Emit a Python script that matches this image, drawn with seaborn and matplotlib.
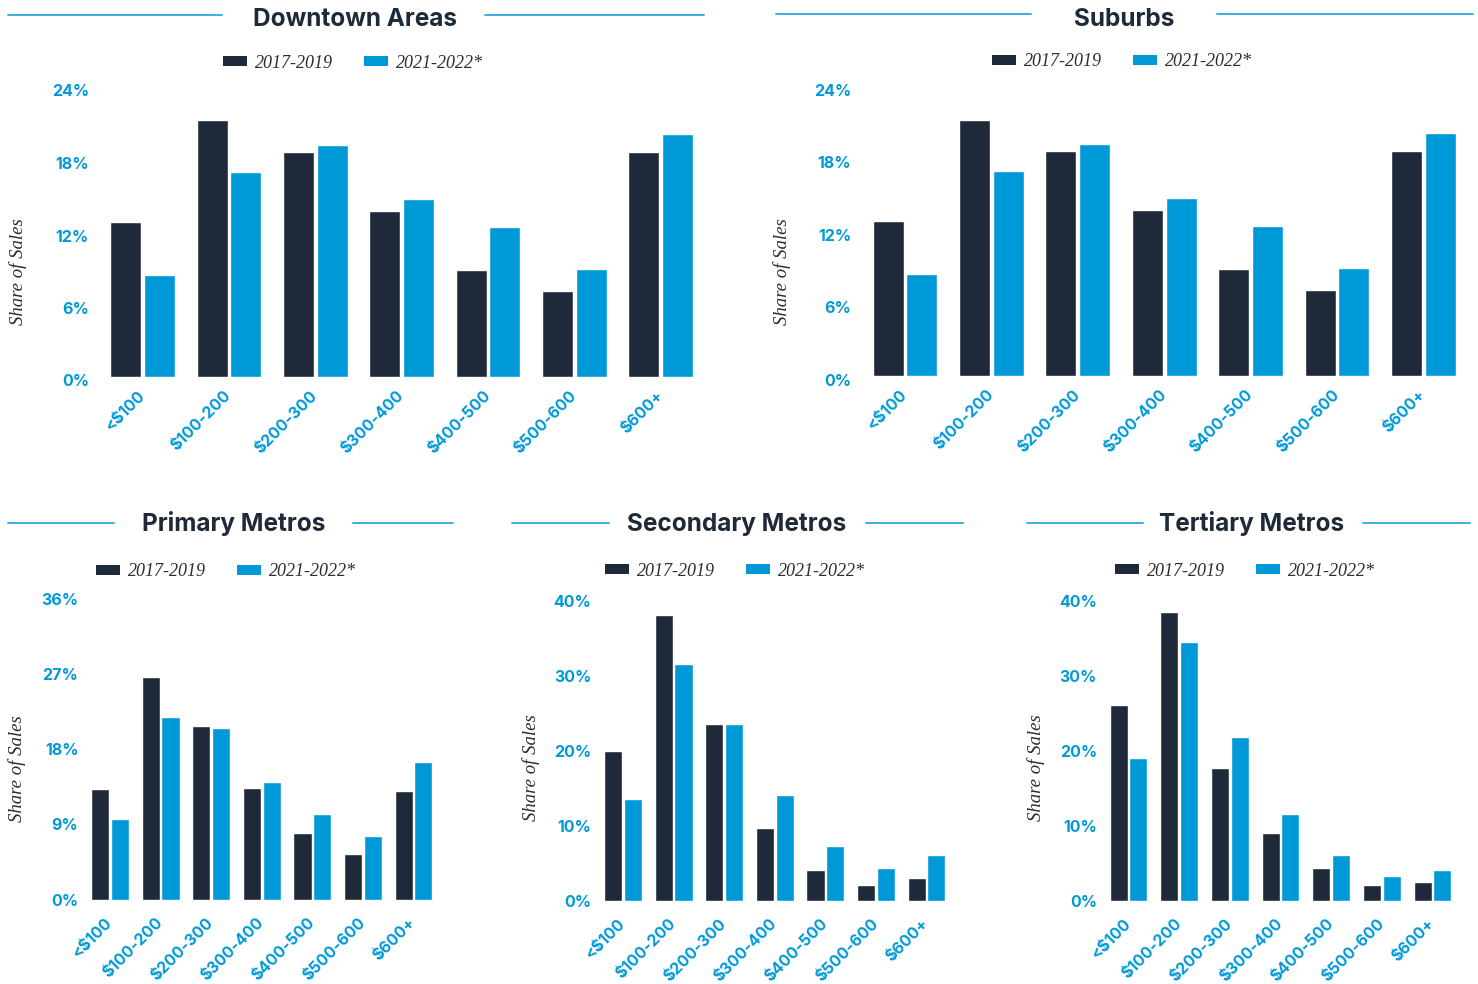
import matplotlib
matplotlib.use("Agg")
import matplotlib.pyplot as plt
from matplotlib.lines import Line2D
from matplotlib.patches import Patch
from matplotlib.transforms import ScaledTranslation
import pandas as pd
import seaborn as sns

# ---- data (share of sales, %) ----
price_bins = ["<$100", "$100-200", "$200-300", "$300-400", "$400-500", "$500-600", "$600+"]
periods = ["2017-2019", "2021-2022*"]

downtown_2017_2019 = [12.8, 21.2, 18.6, 13.7, 8.8, 7.1, 18.6]
downtown_2021_2022 = [8.4, 16.9, 19.2, 14.7, 12.4, 8.9, 20.1]

suburbs_2017_2019 = [12.8, 21.2, 18.6, 13.7, 8.8, 7.1, 18.6]
suburbs_2021_2022 = [8.4, 16.9, 19.2, 14.7, 12.4, 8.9, 20.1]

primary_2017_2019 = [13.2, 26.6, 20.8, 13.4, 8.0, 5.5, 13.0]
primary_2021_2022 = [9.6, 21.9, 20.5, 14.1, 10.2, 7.6, 16.5]

secondary_2017_2019 = [20.0, 38.1, 23.6, 9.7, 4.1, 2.1, 3.0]
secondary_2021_2022 = [13.6, 31.6, 23.6, 14.1, 7.3, 4.4, 6.1]

tertiary_2017_2019 = [26.1, 38.5, 17.7, 9.0, 4.4, 2.1, 2.5]
tertiary_2021_2022 = [19.0, 34.5, 21.8, 11.6, 6.1, 3.3, 4.1]

titles = ["Downtown Areas", "Suburbs", "Primary Metros", "Secondary Metros", "Tertiary Metros"]
yticks_top = [0, 6, 12, 18, 24]
yticks_primary = [0, 9, 18, 27, 36]
yticks_other = [0, 10, 20, 30, 40]

# ---- style ----
DARK = "#1e2a3a"
BLUE = "#0099d8"
TEXT_DARK = "#1e2a3a"
SERIF_TEXT = "#2d2d2d"
RULE = "#3aaee0"

sns.set_theme(style="white")
plt.rcParams["font.family"] = ["Inter", "DejaVu Sans"]

W, H = 1478, 984
fig = plt.figure(figsize=(W / 100, H / 100), dpi=100)
fig.patch.set_facecolor("white")


def fx(px):
    return px / W


def fy(py):
    return 1 - py / H


def frame(ax_left, ax_right, ax_top, ax_bottom):
    return [fx(ax_left), fy(ax_bottom), fx(ax_right - ax_left), (ax_bottom - ax_top) / H]


panels = [
    dict(title=titles[0], a=downtown_2017_2019, b=downtown_2021_2022, ticks=yticks_top,
         rect=frame(99.3, 704.0, 86.5, 376.5), rule=(8, 222, 485, 704, 15), tcx=355, tby=26,
         leg=(353, 63), ylab=(0.12, 0.36), xpad=12, ypad=7.5, ydrop=4),
    dict(title=titles[1], a=suburbs_2017_2019, b=suburbs_2021_2022, ticks=yticks_top,
         rect=frame(861.8, 1466.7, 85.7, 375.7), rule=(776, 1031, 1217, 1473, 14), tcx=1124, tby=26,
         leg=(1122, 62), ylab=(0.117, 0.36), xpad=12, ypad=7.5, ydrop=4),
    dict(title=titles[2], a=primary_2017_2019, b=primary_2021_2022, ticks=yticks_primary,
         rect=frame(84.7, 438.8, 599.0, 899.5), rule=(8, 114, 353, 453, 523), tcx=234, tby=531,
         leg=(226, 572), ylab=(0.166, 0.437), xpad=15, ypad=4.5, ydrop=0),
    dict(title=titles[3], a=secondary_2017_2019, b=secondary_2021_2022, ticks=yticks_other,
         rect=frame(597.7, 951.8, 600.7, 900.7), rule=(512, 609, 866, 963, 523), tcx=737, tby=531,
         leg=(735, 571), ylab=(0.163, 0.442), xpad=15, ypad=4.5, ydrop=0),
    dict(title=titles[4], a=tertiary_2017_2019, b=tertiary_2021_2022, ticks=yticks_other,
         rect=frame(1103.2, 1457.8, 600.7, 900.7), rule=(1027, 1143, 1363, 1470, 523), tcx=1252, tby=531,
         leg=(1245, 571), ylab=(0.164, 0.442), xpad=15, ypad=4.5, ydrop=0),
]

serif_italic = dict(family=["Liberation Serif", "DejaVu Serif"], style="italic")

for p in panels:
    df = pd.DataFrame({
        "bin": price_bins * 2,
        "share": list(p["a"]) + list(p["b"]),
        "period": [periods[0]] * len(price_bins) + [periods[1]] * len(price_bins),
    })
    ax = fig.add_axes(p["rect"])
    sns.barplot(data=df, x="bin", y="share", hue="period", order=price_bins,
                hue_order=periods, palette=[DARK, BLUE], saturation=1,
                width=0.78, gap=0.08, legend=False, ax=ax)
    ax.set_xlim(-0.5, len(price_bins) - 0.5)
    ax.set_ylim(0, p["ticks"][-1])
    ax.set_yticks(p["ticks"])
    ax.set_yticklabels([f"{t}%" for t in p["ticks"]], fontsize=11.5, fontweight="bold", color=BLUE)
    ax.set_xticks(range(len(price_bins)))
    ax.set_xticklabels(price_bins, rotation=45, ha="right", va="center", rotation_mode="anchor",
                       fontsize=11.5, fontweight="bold", color=BLUE)
    ax.tick_params(axis="both", length=0)
    ax.tick_params(axis="x", pad=p["xpad"])
    ax.tick_params(axis="y", pad=p["ypad"])
    if p["ydrop"]:
        shift = ScaledTranslation(0, -p["ydrop"] / 100, fig.dpi_scale_trans)
        for lab in ax.get_yticklabels():
            lab.set_transform(lab.get_transform() + shift)
    ax.set_xlabel("")
    ax.set_ylabel("Share of Sales", fontsize=13.5, color=SERIF_TEXT, **serif_italic)
    ax.yaxis.set_label_coords(-p["ylab"][0], p["ylab"][1])
    for s in ax.spines.values():
        s.set_visible(False)
    ax.set_facecolor("white")

    # heading with rules on either side
    x1, x2, x3, x4, ry = p["rule"]
    for a0, a1 in ((x1, x2), (x3, x4)):
        fig.add_artist(Line2D([fx(a0), fx(a1)], [fy(ry), fy(ry)], color=RULE, lw=1.4))
    fig.text(fx(p["tcx"]), fy(p["tby"]), p["title"], ha="center", va="baseline",
             fontsize=17.5, fontweight="bold", color=TEXT_DARK)

    handles = [Patch(facecolor=DARK, edgecolor="none"), Patch(facecolor=BLUE, edgecolor="none")]
    fig.legend(handles, periods, loc="center", bbox_to_anchor=(fx(p["leg"][0]), fy(p["leg"][1])),
               ncol=2, frameon=False, handlelength=1.35, handleheight=0.45, handletextpad=0.45,
               columnspacing=1.7, prop=dict(size=13, **serif_italic), labelcolor=SERIF_TEXT)

fig.savefig("out.png", dpi=100, facecolor="white")
